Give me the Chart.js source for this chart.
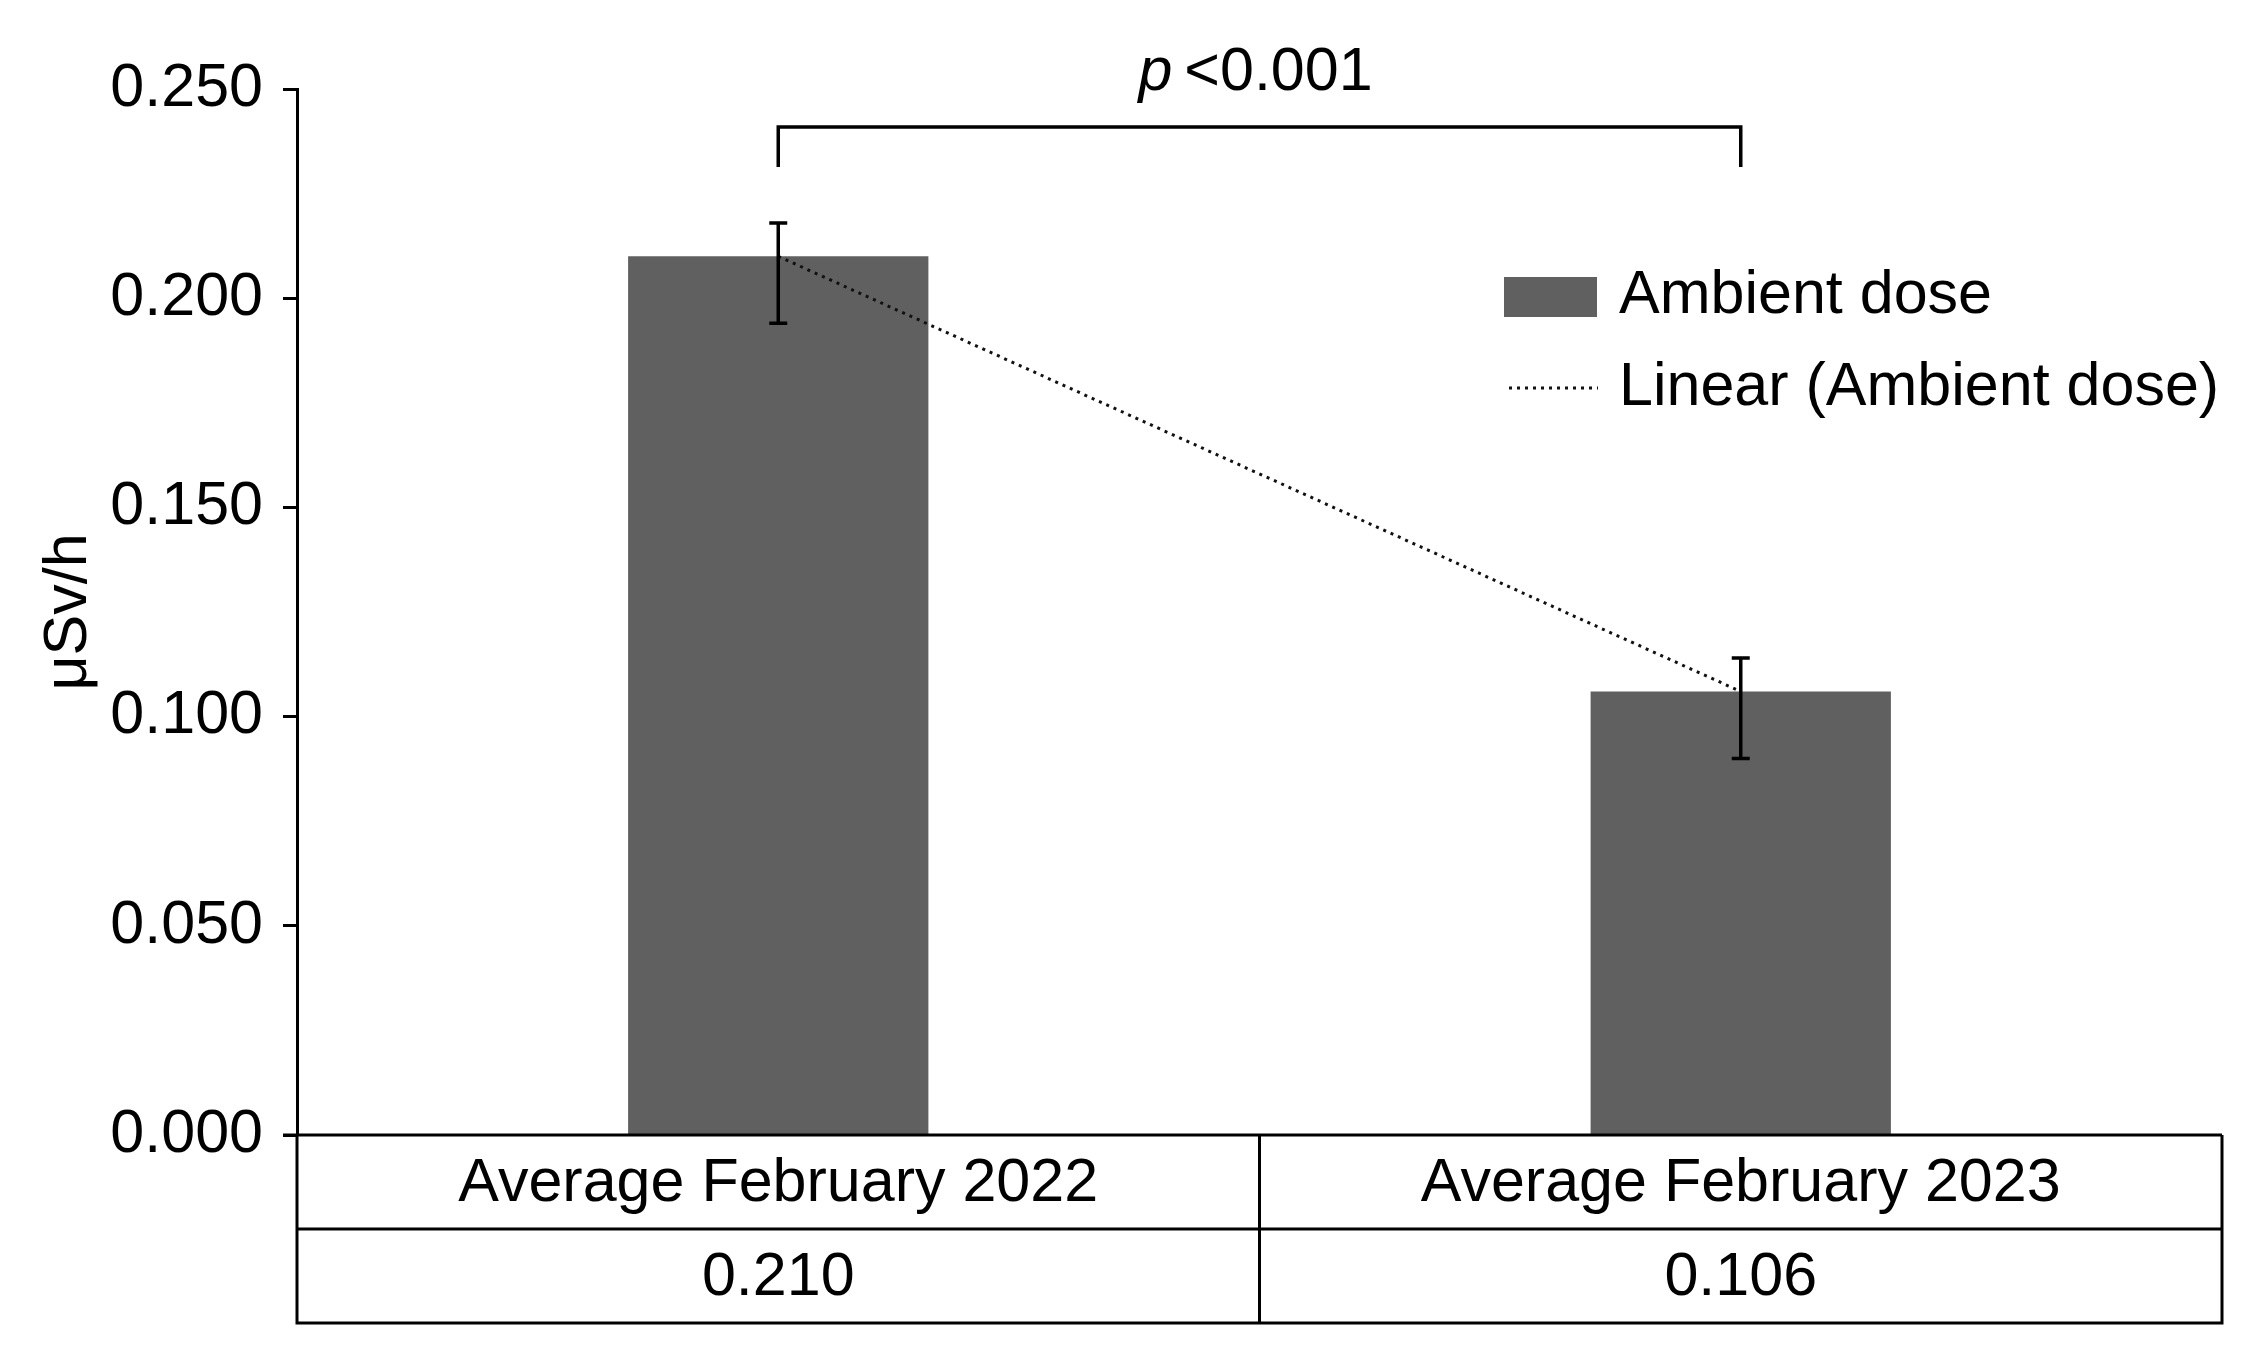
<!DOCTYPE html>
<html>
<head>
<meta charset="utf-8">
<script src="https://cdn.jsdelivr.net/npm/chart.js@4.4.1/dist/chart.umd.min.js"></script>
<style>
  html, body { margin: 0; padding: 0; background: #ffffff; }
  canvas { display: block; }
</style>
</head>
<body>
<canvas id="c" width="2252" height="1366"></canvas>
<script>
// ---- data ----
const categories = ["Average February 2022", "Average February 2023"];
const barValues = [0.210, 0.106];
const valueLabels = ["0.210", "0.106"];
const errUpper = [0.008, 0.008];
const errLower = [0.016, 0.016];
const seriesNames = ["Ambient dose", "Linear (Ambient dose)"];
const yTicks = [0, 0.05, 0.10, 0.15, 0.20, 0.25];
const pLabelItalic = "p";
const pLabelRest = "<0.001";
const yTitle = "\u03BCSv/h";

const FONT = "'Liberation Sans', Arial, Helvetica, sans-serif";
const FS = 61;
const BAR_COLOR = "#606060";

const overlay = {
  id: 'overlay',
  afterDatasetsDraw(chart) {
    const ctx = chart.ctx;
    const x = chart.scales.x, y = chart.scales.y;
    const area = chart.chartArea;
    ctx.save();
    ctx.strokeStyle = '#000';
    ctx.fillStyle = '#000';
    ctx.lineCap = 'butt';

    // error bars
    const cap = 9;
    ctx.lineWidth = 3.5;
    barValues.forEach((v, i) => {
      const cx = x.getPixelForValue(i);
      const yt = y.getPixelForValue(v + errUpper[i]);
      const yb = y.getPixelForValue(v - errLower[i]);
      ctx.beginPath();
      ctx.moveTo(cx, yt); ctx.lineTo(cx, yb);
      ctx.moveTo(cx - cap, yt); ctx.lineTo(cx + cap, yt);
      ctx.moveTo(cx - cap, yb); ctx.lineTo(cx + cap, yb);
      ctx.stroke();
    });

    // table
    const left = area.left, right = area.right, top = area.bottom;
    const rowH = 94;
    const x0 = x.getPixelForValue(0), x1 = x.getPixelForValue(1);
    const mid = (x0 + x1) / 2;
    ctx.lineWidth = 3;
    ctx.beginPath();
    ctx.moveTo(left - 14, top); ctx.lineTo(right, top);
    ctx.moveTo(left, top + rowH); ctx.lineTo(right, top + rowH);
    ctx.moveTo(left - 1.5, top + 2 * rowH); ctx.lineTo(right + 1.5, top + 2 * rowH);
    ctx.moveTo(left, top); ctx.lineTo(left, top + 2 * rowH);
    ctx.moveTo(mid, top); ctx.lineTo(mid, top + 2 * rowH);
    ctx.moveTo(right, top); ctx.lineTo(right, top + 2 * rowH);
    ctx.stroke();
    ctx.font = FS + "px " + FONT;
    ctx.textAlign = 'center';
    ctx.textBaseline = 'middle';
    categories.forEach((c, i) => {
      const cx = x.getPixelForValue(i);
      ctx.fillText(c, cx, top + rowH / 2 + 2);
      ctx.fillText(valueLabels[i], cx, top + rowH * 1.5 + 2);
    });

    // significance bracket
    const by = 127, legB = 167;
    ctx.lineWidth = 3.5;
    ctx.beginPath();
    ctx.moveTo(x0, legB); ctx.lineTo(x0, by); ctx.lineTo(x1, by); ctx.lineTo(x1, legB);
    ctx.stroke();
    ctx.textBaseline = 'alphabetic';
    ctx.textAlign = 'left';
    ctx.font = "italic " + FS + "px " + FONT;
    const wP = ctx.measureText(pLabelItalic).width;
    ctx.font = FS + "px " + FONT;
    const wR = ctx.measureText(pLabelRest).width;
    const gap = 12;
    const total = wP + gap + wR;
    const sx = (x0 + x1) / 2 - total / 2 - 4;
    ctx.font = "italic " + FS + "px " + FONT;
    ctx.fillText(pLabelItalic, sx, 90);
    ctx.font = FS + "px " + FONT;
    ctx.fillText(pLabelRest, sx + wP + gap, 90);

    // legend
    ctx.fillStyle = BAR_COLOR;
    ctx.fillRect(1504, 277, 93, 40);
    ctx.fillStyle = '#000';
    ctx.font = FS + "px " + FONT;
    ctx.fillText(seriesNames[0], 1619, 313);
    ctx.fillText(seriesNames[1], 1619, 405);
    ctx.strokeStyle = '#111';
    ctx.lineWidth = 3;
    ctx.setLineDash([3, 5]);
    ctx.beginPath();
    ctx.moveTo(1509, 388); ctx.lineTo(1598, 388);
    ctx.stroke();
    ctx.setLineDash([]);
    ctx.restore();
  }
};

new Chart(document.getElementById('c'), {
  data: {
    labels: categories,
    datasets: [
      {
        type: 'line',
        label: seriesNames[1],
        data: barValues,
        borderColor: '#111',
        borderWidth: 3,
        borderDash: [3, 5],
        pointRadius: 0,
        fill: false,
        order: 0
      },
      {
        type: 'bar',
        label: seriesNames[0],
        data: barValues,
        backgroundColor: BAR_COLOR,
        borderWidth: 0,
        barPercentage: 0.312,
        categoryPercentage: 1.0,
        order: 1
      }
    ]
  },
  options: {
    responsive: false,
    animation: false,
    devicePixelRatio: 1,
    layout: { padding: { top: 89, bottom: 231, left: 0, right: 30 } },
    plugins: { legend: { display: false }, tooltip: { enabled: false } },
    scales: {
      x: { type: 'category', display: false, offset: true },
      y: {
        type: 'linear',
        min: 0,
        max: 0.25,
        afterFit: (s) => { s.width = 297; },
        afterBuildTicks: (s) => { s.ticks = yTicks.map(v => ({ value: v })); },
        ticks: {
          callback: (v) => Number(v).toFixed(3),
          color: '#000',
          font: { family: FONT, size: FS },
          padding: 20
        },
        grid: {
          drawOnChartArea: false,
          drawTicks: true,
          tickLength: 14,
          tickWidth: 3,
          tickColor: '#000'
        },
        border: { display: true, color: '#000', width: 3 },
        title: {
          display: true,
          text: yTitle,
          color: '#000',
          font: { family: FONT, size: FS },
          padding: { top: 33, bottom: 0 }
        }
      }
    }
  },
  plugins: [overlay]
});
</script>
</body>
</html>
